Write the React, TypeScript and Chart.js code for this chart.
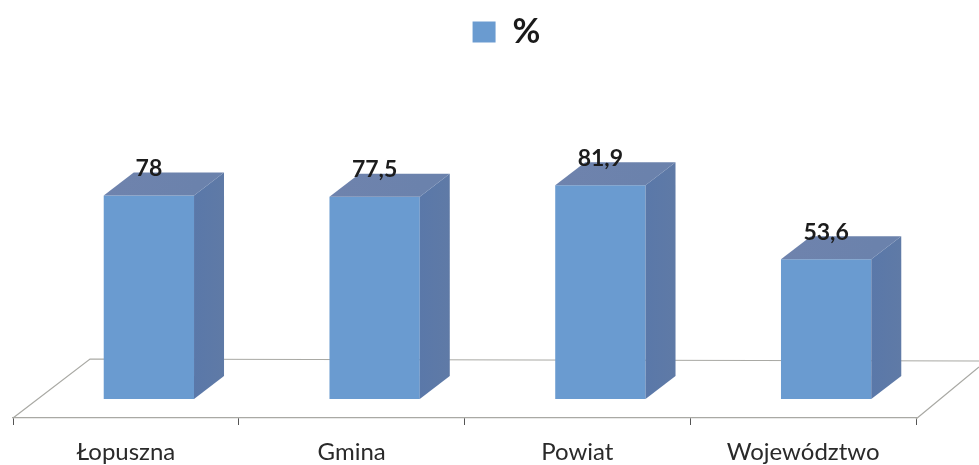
import React, { useEffect, useRef } from "react";
import { Chart, registerables } from "chart.js";

Chart.register(...registerables);

const categories = ["Łopuszna", "Gmina", "Powiat", "Województwo"];
const seriesName = "%";
const values = [78, 77.5, 81.9, 53.6];
const valueLabels = ["78", "77,5", "81,9", "53,6"];

const DX = 23; // shift of the bars from the category centre
const DY = -19; // lift of the bars from the axis line
const DEPTH_X = 30;
const DEPTH_Y = -23;

const threeD = {
  id: "threeD",
  afterLayout(chart: any) {
    chart.legend.left += 84;
  },
  beforeDatasetsDraw(chart: any) {
    const { ctx, chartArea: a } = chart;
    ctx.save();
    ctx.strokeStyle = "#a9a9a4";
    ctx.lineWidth = 1.2;
    ctx.beginPath();
    ctx.moveTo(a.left, a.bottom);
    ctx.lineTo(a.left + 77, a.bottom - 59);
    ctx.lineTo(chart.width, a.bottom - 57);
    ctx.moveTo(a.right, a.bottom + 1);
    ctx.lineTo(chart.width, a.bottom - 51);
    ctx.stroke();
    ctx.restore();
    ctx.save();
    ctx.translate(DX, DY);
  },
  afterDatasetsDraw(chart: any) {
    const { ctx } = chart;
    const bars = chart.getDatasetMeta(0).data;
    bars.forEach((b: any) => {
      const l = b.x - b.width / 2;
      const r = b.x + b.width / 2;
      const t = b.y;
      const bot = b.base;
      const top = ctx.createLinearGradient(l, t + DEPTH_Y, r, t);
      top.addColorStop(0, "#6f83ad");
      top.addColorStop(1, "#6b82ac");
      ctx.fillStyle = top;
      ctx.beginPath();
      ctx.moveTo(l, t);
      ctx.lineTo(l + DEPTH_X, t + DEPTH_Y);
      ctx.lineTo(r + DEPTH_X, t + DEPTH_Y);
      ctx.lineTo(r, t);
      ctx.closePath();
      ctx.fill();
      const side = ctx.createLinearGradient(r, t, r + DEPTH_X, t);
      side.addColorStop(0, "#5a78a9");
      side.addColorStop(1, "#5f7aa6");
      ctx.fillStyle = side;
      ctx.beginPath();
      ctx.moveTo(r, t);
      ctx.lineTo(r + DEPTH_X, t + DEPTH_Y);
      ctx.lineTo(r + DEPTH_X, bot + DEPTH_Y);
      ctx.lineTo(r, bot);
      ctx.closePath();
      ctx.fill();
    });
    ctx.fillStyle = "#1c1c1c";
    ctx.font = "bold 23px Lato";
    ctx.textAlign = "center";
    ctx.textBaseline = "middle";
    bars.forEach((b: any, i: number) => {
      ctx.fillText(valueLabels[i], b.x, b.y - 27);
    });
    ctx.restore();
  },
};

export default function App() {
  const ref = useRef<HTMLCanvasElement>(null);
  useEffect(() => {
    document.body.style.margin = "0";
    document.body.style.background = "#ffffff";
    const chart = new Chart(ref.current!, {
      type: "bar",
      data: {
        labels: categories,
        datasets: [
          {
            label: seriesName,
            data: values,
            backgroundColor: "#6A9BD0",
            categoryPercentage: 1,
            barPercentage: 0.4,
          },
        ],
      },
      options: {
        responsive: false,
        animation: false,
        layout: { padding: { left: 13, right: 63, top: 3, bottom: 0 } },
        plugins: {
          tooltip: { enabled: false },
          legend: {
            position: "top",
            labels: {
              boxWidth: 23,
              boxHeight: 21,
              padding: 12,
              color: "#1a1a1a",
              font: { family: "Lato", size: 34, weight: "bold" },
            },
          },
        },
        scales: {
          x: {
            afterFit(scale: any) {
              scale.height = 47;
            },
            border: { display: true, color: "#a9a9a4", width: 1.2 },
            grid: {
              display: true,
              drawOnChartArea: false,
              drawTicks: true,
              tickLength: 7,
              color: "#555555",
              offset: true,
            },
            ticks: {
              color: "#2a2a2a",
              font: { family: "Lato", size: 24 },
              padding: 13,
              maxRotation: 0,
              autoSkip: false,
            },
          },
          y: { display: false, min: 0, max: 137.6 },
        },
      },
      plugins: [threeD],
    } as any);
    return () => chart.destroy();
  }, []);
  return <canvas ref={ref} width={979} height={465} style={{ display: "block" }} />;
}
